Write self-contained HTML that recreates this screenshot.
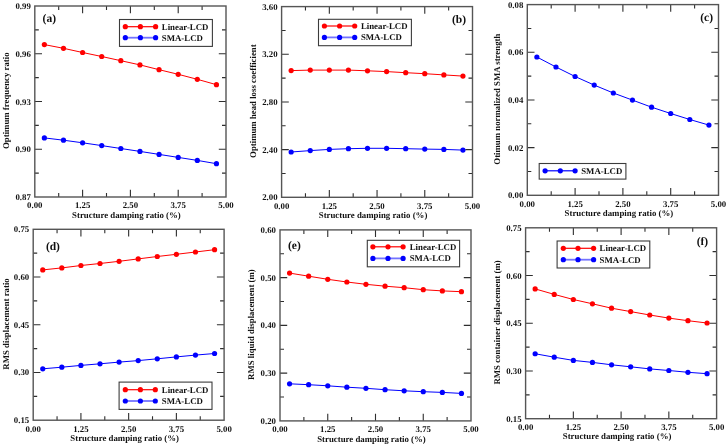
<!DOCTYPE html>
<html><head><meta charset="utf-8"><title>Figure</title>
<style>
html,body{margin:0;padding:0;background:#fff;}
svg{display:block;will-change:transform;}
text{text-rendering:geometricPrecision;font-family:"Liberation Serif",serif;font-weight:bold;font-size:8.8px;fill:#111;}
</style></head><body>
<svg width="727" height="445" viewBox="0 0 727 445">
<rect width="727" height="445" fill="#fff"/>
<g id="pa"><path d="M34.8 173.12h4.0M226 173.12h-4.0M34.8 149.25h7.2M226 149.25h-7.2M34.8 125.37h4.0M226 125.37h-4.0M34.8 101.5h7.2M226 101.5h-7.2M34.8 77.63h4.0M226 77.63h-4.0M34.8 53.75h7.2M226 53.75h-7.2M34.8 29.88h4.0M226 29.88h-4.0M58.7 197v-4.0M58.7 6v4.0M82.6 197v-7.2M82.6 6v7.2M106.5 197v-4.0M106.5 6v4.0M130.4 197v-7.2M130.4 6v7.2M154.3 197v-4.0M154.3 6v4.0M178.2 197v-7.2M178.2 6v7.2M202.1 197v-4.0M202.1 6v4.0" stroke="#2e2e2e" stroke-width="1.1" fill="none"/>
<rect x="34.8" y="6" width="191.2" height="191" stroke="#555555" stroke-width="1.4" fill="none"/>
<text x="30.8" y="200" text-anchor="end">0.87</text>
<text x="30.8" y="152.25" text-anchor="end">0.90</text>
<text x="30.8" y="104.5" text-anchor="end">0.93</text>
<text x="30.8" y="56.75" text-anchor="end">0.96</text>
<text x="30.8" y="9" text-anchor="end">0.99</text>
<text x="34.8" y="208.4" text-anchor="middle">0.00</text>
<text x="82.6" y="208.4" text-anchor="middle">1.25</text>
<text x="130.4" y="208.4" text-anchor="middle">2.50</text>
<text x="178.2" y="208.4" text-anchor="middle">3.75</text>
<text x="226" y="208.4" text-anchor="middle">5.00</text>
<text x="126.4" y="217.6" text-anchor="middle">Structure damping ratio (%)</text>
<text transform="translate(9.3 100.7) rotate(-90)" text-anchor="middle">Optimum frequency ratio</text>
<text x="42.6" y="21.6" text-anchor="start" style="font-size:11.5px">(a)</text>
<polyline points="44.36,44.6 63.48,48.3 82.6,52.5 101.72,56.5 120.84,60.7 139.96,64.9 159.08,69.7 178.2,74.3 197.32,79.3 216.44,84.7" stroke="#ff0000" stroke-width="1.0" fill="none"/>
<circle cx="44.36" cy="44.6" r="2.6" fill="#ff0000"/><circle cx="63.48" cy="48.3" r="2.6" fill="#ff0000"/><circle cx="82.6" cy="52.5" r="2.6" fill="#ff0000"/><circle cx="101.72" cy="56.5" r="2.6" fill="#ff0000"/><circle cx="120.84" cy="60.7" r="2.6" fill="#ff0000"/><circle cx="139.96" cy="64.9" r="2.6" fill="#ff0000"/><circle cx="159.08" cy="69.7" r="2.6" fill="#ff0000"/><circle cx="178.2" cy="74.3" r="2.6" fill="#ff0000"/><circle cx="197.32" cy="79.3" r="2.6" fill="#ff0000"/><circle cx="216.44" cy="84.7" r="2.6" fill="#ff0000"/>
<polyline points="44.36,137.9 63.48,140.2 82.6,142.8 101.72,145.6 120.84,148.5 139.96,151.4 159.08,154.4 178.2,157.4 197.32,160.4 216.44,163.7" stroke="#0000ff" stroke-width="1.0" fill="none"/>
<circle cx="44.36" cy="137.9" r="2.6" fill="#0000ff"/><circle cx="63.48" cy="140.2" r="2.6" fill="#0000ff"/><circle cx="82.6" cy="142.8" r="2.6" fill="#0000ff"/><circle cx="101.72" cy="145.6" r="2.6" fill="#0000ff"/><circle cx="120.84" cy="148.5" r="2.6" fill="#0000ff"/><circle cx="139.96" cy="151.4" r="2.6" fill="#0000ff"/><circle cx="159.08" cy="154.4" r="2.6" fill="#0000ff"/><circle cx="178.2" cy="157.4" r="2.6" fill="#0000ff"/><circle cx="197.32" cy="160.4" r="2.6" fill="#0000ff"/><circle cx="216.44" cy="163.7" r="2.6" fill="#0000ff"/>
<rect x="119.5" y="19.5" width="92.9" height="26.9" stroke="#3c3c3c" stroke-width="1.1" fill="#fff"/>
<path d="M125.3 26.7H155.6" stroke="#ff0000" stroke-width="1.2"/>
<circle cx="125.3" cy="26.7" r="2.6" fill="#ff0000"/><circle cx="140.4" cy="26.7" r="2.6" fill="#ff0000"/><circle cx="155.6" cy="26.7" r="2.6" fill="#ff0000"/>
<text x="161.8" y="29.7">Linear-LCD</text>
<path d="M125.3 37.7H155.6" stroke="#7373ff" stroke-width="1.8"/>
<circle cx="125.3" cy="37.7" r="2.6" fill="#0000ff"/><circle cx="140.4" cy="37.7" r="2.6" fill="#0000ff"/><circle cx="155.6" cy="37.7" r="2.6" fill="#0000ff"/>
<text x="161.8" y="40.7">SMA-LCD</text></g>
<g id="pb"><path d="M281.6 173.46h4.0M472.5 173.46h-4.0M281.6 149.62h7.2M472.5 149.62h-7.2M281.6 125.79h4.0M472.5 125.79h-4.0M281.6 101.95h7.2M472.5 101.95h-7.2M281.6 78.11h4.0M472.5 78.11h-4.0M281.6 54.27h7.2M472.5 54.27h-7.2M281.6 30.44h4.0M472.5 30.44h-4.0M305.46 197.3v-4.0M305.46 6.6v4.0M329.33 197.3v-7.2M329.33 6.6v7.2M353.19 197.3v-4.0M353.19 6.6v4.0M377.05 197.3v-7.2M377.05 6.6v7.2M400.91 197.3v-4.0M400.91 6.6v4.0M424.77 197.3v-7.2M424.77 6.6v7.2M448.64 197.3v-4.0M448.64 6.6v4.0" stroke="#2e2e2e" stroke-width="1.1" fill="none"/>
<rect x="281.6" y="6.6" width="190.9" height="190.7" stroke="#555555" stroke-width="1.4" fill="none"/>
<text x="277.6" y="200.3" text-anchor="end">2.00</text>
<text x="277.6" y="152.62" text-anchor="end">2.40</text>
<text x="277.6" y="104.95" text-anchor="end">2.80</text>
<text x="277.6" y="57.27" text-anchor="end">3.20</text>
<text x="277.6" y="9.6" text-anchor="end">3.60</text>
<text x="281.6" y="208.7" text-anchor="middle">0.00</text>
<text x="329.33" y="208.7" text-anchor="middle">1.25</text>
<text x="377.05" y="208.7" text-anchor="middle">2.50</text>
<text x="424.77" y="208.7" text-anchor="middle">3.75</text>
<text x="472.5" y="208.7" text-anchor="middle">5.00</text>
<text x="373.05" y="217.9" text-anchor="middle">Structure damping ratio (%)</text>
<text transform="translate(255.7 101.15) rotate(-90)" text-anchor="middle">Optimum head loss coefficient</text>
<text x="466" y="23.2" text-anchor="end" style="font-size:11.5px">(b)</text>
<polyline points="291.15,70.6 310.24,70.1 329.33,70.1 348.42,70.1 367.5,70.8 386.6,71.6 405.69,72.7 424.77,73.7 443.87,74.9 462.95,76.1" stroke="#ff0000" stroke-width="1.0" fill="none"/>
<circle cx="291.15" cy="70.6" r="2.6" fill="#ff0000"/><circle cx="310.24" cy="70.1" r="2.6" fill="#ff0000"/><circle cx="329.33" cy="70.1" r="2.6" fill="#ff0000"/><circle cx="348.42" cy="70.1" r="2.6" fill="#ff0000"/><circle cx="367.5" cy="70.8" r="2.6" fill="#ff0000"/><circle cx="386.6" cy="71.6" r="2.6" fill="#ff0000"/><circle cx="405.69" cy="72.7" r="2.6" fill="#ff0000"/><circle cx="424.77" cy="73.7" r="2.6" fill="#ff0000"/><circle cx="443.87" cy="74.9" r="2.6" fill="#ff0000"/><circle cx="462.95" cy="76.1" r="2.6" fill="#ff0000"/>
<polyline points="291.15,152 310.24,150.6 329.33,149.4 348.42,148.7 367.5,148.3 386.6,148.3 405.69,148.7 424.77,149.1 443.87,149.4 462.95,150.1" stroke="#0000ff" stroke-width="1.0" fill="none"/>
<circle cx="291.15" cy="152" r="2.6" fill="#0000ff"/><circle cx="310.24" cy="150.6" r="2.6" fill="#0000ff"/><circle cx="329.33" cy="149.4" r="2.6" fill="#0000ff"/><circle cx="348.42" cy="148.7" r="2.6" fill="#0000ff"/><circle cx="367.5" cy="148.3" r="2.6" fill="#0000ff"/><circle cx="386.6" cy="148.3" r="2.6" fill="#0000ff"/><circle cx="405.69" cy="148.7" r="2.6" fill="#0000ff"/><circle cx="424.77" cy="149.1" r="2.6" fill="#0000ff"/><circle cx="443.87" cy="149.4" r="2.6" fill="#0000ff"/><circle cx="462.95" cy="150.1" r="2.6" fill="#0000ff"/>
<rect x="318.5" y="19.3" width="92.9" height="26.4" stroke="#3c3c3c" stroke-width="1.1" fill="#fff"/>
<path d="M324.4 26H354.7" stroke="#ff0000" stroke-width="1.2"/>
<circle cx="324.4" cy="26" r="2.6" fill="#ff0000"/><circle cx="339.6" cy="26" r="2.6" fill="#ff0000"/><circle cx="354.7" cy="26" r="2.6" fill="#ff0000"/>
<text x="360.9" y="29">Linear-LCD</text>
<path d="M324.4 37.4H354.7" stroke="#7373ff" stroke-width="1.8"/>
<circle cx="324.4" cy="37.4" r="2.6" fill="#0000ff"/><circle cx="339.6" cy="37.4" r="2.6" fill="#0000ff"/><circle cx="354.7" cy="37.4" r="2.6" fill="#0000ff"/>
<text x="360.9" y="40.4">SMA-LCD</text></g>
<g id="pc"><path d="M527.3 171.46h4.0M718.5 171.46h-4.0M527.3 147.62h7.2M718.5 147.62h-7.2M527.3 123.79h4.0M718.5 123.79h-4.0M527.3 99.95h7.2M718.5 99.95h-7.2M527.3 76.11h4.0M718.5 76.11h-4.0M527.3 52.28h7.2M718.5 52.28h-7.2M527.3 28.44h4.0M718.5 28.44h-4.0M551.2 195.3v-4.0M551.2 4.6v4.0M575.1 195.3v-7.2M575.1 4.6v7.2M599 195.3v-4.0M599 4.6v4.0M622.9 195.3v-7.2M622.9 4.6v7.2M646.8 195.3v-4.0M646.8 4.6v4.0M670.7 195.3v-7.2M670.7 4.6v7.2M694.6 195.3v-4.0M694.6 4.6v4.0" stroke="#2e2e2e" stroke-width="1.1" fill="none"/>
<rect x="527.3" y="4.6" width="191.2" height="190.7" stroke="#555555" stroke-width="1.4" fill="none"/>
<text x="523.3" y="198.3" text-anchor="end">0.00</text>
<text x="523.3" y="150.62" text-anchor="end">0.02</text>
<text x="523.3" y="102.95" text-anchor="end">0.04</text>
<text x="523.3" y="55.28" text-anchor="end">0.06</text>
<text x="523.3" y="7.6" text-anchor="end">0.08</text>
<text x="527.3" y="206.7" text-anchor="middle">0.00</text>
<text x="575.1" y="206.7" text-anchor="middle">1.25</text>
<text x="622.9" y="206.7" text-anchor="middle">2.50</text>
<text x="670.7" y="206.7" text-anchor="middle">3.75</text>
<text x="718.5" y="206.7" text-anchor="middle">5.00</text>
<text x="618.9" y="215.9" text-anchor="middle">Structure damping ratio (%)</text>
<text transform="translate(499.7 99.15) rotate(-90)" text-anchor="middle">Otimum normalized SMA strength</text>
<text x="713" y="21.2" text-anchor="end" style="font-size:11.5px">(c)</text>
<polyline points="536.86,57 555.98,67 575.1,76.5 594.22,85.1 613.34,93 632.46,100.1 651.58,107.2 670.7,113.5 689.82,119.5 708.94,125.1" stroke="#0000ff" stroke-width="1.0" fill="none"/>
<circle cx="536.86" cy="57" r="2.6" fill="#0000ff"/><circle cx="555.98" cy="67" r="2.6" fill="#0000ff"/><circle cx="575.1" cy="76.5" r="2.6" fill="#0000ff"/><circle cx="594.22" cy="85.1" r="2.6" fill="#0000ff"/><circle cx="613.34" cy="93" r="2.6" fill="#0000ff"/><circle cx="632.46" cy="100.1" r="2.6" fill="#0000ff"/><circle cx="651.58" cy="107.2" r="2.6" fill="#0000ff"/><circle cx="670.7" cy="113.5" r="2.6" fill="#0000ff"/><circle cx="689.82" cy="119.5" r="2.6" fill="#0000ff"/><circle cx="708.94" cy="125.1" r="2.6" fill="#0000ff"/>
<rect x="539.2" y="163.5" width="86.7" height="15.6" stroke="#3c3c3c" stroke-width="1.1" fill="#fff"/>
<path d="M545.1 170.8H575.1" stroke="#0000ff" stroke-width="1.2"/>
<circle cx="545.1" cy="170.8" r="2.6" fill="#0000ff"/><circle cx="560.3" cy="170.8" r="2.6" fill="#0000ff"/><circle cx="575.1" cy="170.8" r="2.6" fill="#0000ff"/>
<text x="581.2" y="173.8">SMA-LCD</text></g>
<g id="pd"><path d="M33.2 396.34h4.0M224.1 396.34h-4.0M33.2 372.48h7.2M224.1 372.48h-7.2M33.2 348.61h4.0M224.1 348.61h-4.0M33.2 324.75h7.2M224.1 324.75h-7.2M33.2 300.89h4.0M224.1 300.89h-4.0M33.2 277.02h7.2M224.1 277.02h-7.2M33.2 253.16h4.0M224.1 253.16h-4.0M57.06 420.2v-4.0M57.06 229.3v4.0M80.92 420.2v-7.2M80.92 229.3v7.2M104.79 420.2v-4.0M104.79 229.3v4.0M128.65 420.2v-7.2M128.65 229.3v7.2M152.51 420.2v-4.0M152.51 229.3v4.0M176.38 420.2v-7.2M176.38 229.3v7.2M200.24 420.2v-4.0M200.24 229.3v4.0" stroke="#2e2e2e" stroke-width="1.1" fill="none"/>
<rect x="33.2" y="229.3" width="190.9" height="190.9" stroke="#555555" stroke-width="1.4" fill="none"/>
<text x="29.2" y="423.2" text-anchor="end">0.15</text>
<text x="29.2" y="375.48" text-anchor="end">0.30</text>
<text x="29.2" y="327.75" text-anchor="end">0.45</text>
<text x="29.2" y="280.02" text-anchor="end">0.60</text>
<text x="29.2" y="232.3" text-anchor="end">0.75</text>
<text x="33.2" y="431.6" text-anchor="middle">0.00</text>
<text x="80.92" y="431.6" text-anchor="middle">1.25</text>
<text x="128.65" y="431.6" text-anchor="middle">2.50</text>
<text x="176.38" y="431.6" text-anchor="middle">3.75</text>
<text x="224.1" y="431.6" text-anchor="middle">5.00</text>
<text x="124.65" y="440.8" text-anchor="middle">Structure damping ratio (%)</text>
<text transform="translate(8.8 323.95) rotate(-90)" text-anchor="middle">RMS displacement ratio</text>
<text x="45.9" y="249.6" text-anchor="start" style="font-size:11.5px">(d)</text>
<polyline points="42.75,269.9 61.83,267.9 80.92,265.5 100.01,263.5 119.1,261.3 138.19,258.9 157.28,256.5 176.38,254.3 195.46,252 214.55,249.7" stroke="#ff0000" stroke-width="1.0" fill="none"/>
<circle cx="42.75" cy="269.9" r="2.6" fill="#ff0000"/><circle cx="61.83" cy="267.9" r="2.6" fill="#ff0000"/><circle cx="80.92" cy="265.5" r="2.6" fill="#ff0000"/><circle cx="100.01" cy="263.5" r="2.6" fill="#ff0000"/><circle cx="119.1" cy="261.3" r="2.6" fill="#ff0000"/><circle cx="138.19" cy="258.9" r="2.6" fill="#ff0000"/><circle cx="157.28" cy="256.5" r="2.6" fill="#ff0000"/><circle cx="176.38" cy="254.3" r="2.6" fill="#ff0000"/><circle cx="195.46" cy="252" r="2.6" fill="#ff0000"/><circle cx="214.55" cy="249.7" r="2.6" fill="#ff0000"/>
<polyline points="42.75,368.8 61.83,367.2 80.92,365.4 100.01,363.8 119.1,362.1 138.19,360.6 157.28,358.8 176.38,356.9 195.46,355.1 214.55,353.5" stroke="#0000ff" stroke-width="1.0" fill="none"/>
<circle cx="42.75" cy="368.8" r="2.6" fill="#0000ff"/><circle cx="61.83" cy="367.2" r="2.6" fill="#0000ff"/><circle cx="80.92" cy="365.4" r="2.6" fill="#0000ff"/><circle cx="100.01" cy="363.8" r="2.6" fill="#0000ff"/><circle cx="119.1" cy="362.1" r="2.6" fill="#0000ff"/><circle cx="138.19" cy="360.6" r="2.6" fill="#0000ff"/><circle cx="157.28" cy="358.8" r="2.6" fill="#0000ff"/><circle cx="176.38" cy="356.9" r="2.6" fill="#0000ff"/><circle cx="195.46" cy="355.1" r="2.6" fill="#0000ff"/><circle cx="214.55" cy="353.5" r="2.6" fill="#0000ff"/>
<rect x="119.1" y="382.1" width="92.9" height="27.3" stroke="#3c3c3c" stroke-width="1.1" fill="#fff"/>
<path d="M125.3 389.7H155.3" stroke="#ff0000" stroke-width="1.2"/>
<circle cx="125.3" cy="389.7" r="2.6" fill="#ff0000"/><circle cx="140.4" cy="389.7" r="2.6" fill="#ff0000"/><circle cx="155.3" cy="389.7" r="2.6" fill="#ff0000"/>
<text x="161.8" y="392.7">Linear-LCD</text>
<path d="M125.3 401H155.3" stroke="#7373ff" stroke-width="1.8"/>
<circle cx="125.3" cy="401" r="2.6" fill="#0000ff"/><circle cx="140.4" cy="401" r="2.6" fill="#0000ff"/><circle cx="155.3" cy="401" r="2.6" fill="#0000ff"/>
<text x="161.8" y="404">SMA-LCD</text></g>
<g id="pe"><path d="M280 397.02h4.0M471 397.02h-4.0M280 373.15h7.2M471 373.15h-7.2M280 349.27h4.0M471 349.27h-4.0M280 325.4h7.2M471 325.4h-7.2M280 301.52h4.0M471 301.52h-4.0M280 277.65h7.2M471 277.65h-7.2M280 253.77h4.0M471 253.77h-4.0M303.88 420.9v-4.0M303.88 229.9v4.0M327.75 420.9v-7.2M327.75 229.9v7.2M351.62 420.9v-4.0M351.62 229.9v4.0M375.5 420.9v-7.2M375.5 229.9v7.2M399.38 420.9v-4.0M399.38 229.9v4.0M423.25 420.9v-7.2M423.25 229.9v7.2M447.12 420.9v-4.0M447.12 229.9v4.0" stroke="#2e2e2e" stroke-width="1.1" fill="none"/>
<rect x="280" y="229.9" width="191" height="191" stroke="#555555" stroke-width="1.4" fill="none"/>
<text x="276" y="423.9" text-anchor="end">0.20</text>
<text x="276" y="376.15" text-anchor="end">0.30</text>
<text x="276" y="328.4" text-anchor="end">0.40</text>
<text x="276" y="280.65" text-anchor="end">0.50</text>
<text x="276" y="232.9" text-anchor="end">0.60</text>
<text x="280" y="432.3" text-anchor="middle">0.00</text>
<text x="327.75" y="432.3" text-anchor="middle">1.25</text>
<text x="375.5" y="432.3" text-anchor="middle">2.50</text>
<text x="423.25" y="432.3" text-anchor="middle">3.75</text>
<text x="471" y="432.3" text-anchor="middle">5.00</text>
<text x="371.5" y="441.5" text-anchor="middle">Structure damping ratio (%)</text>
<text transform="translate(254.2 324.6) rotate(-90)" text-anchor="middle">RMS liquid displacement (m)</text>
<text x="288" y="249.2" text-anchor="start" style="font-size:11.5px">(e)</text>
<polyline points="289.55,273.1 308.65,276.2 327.75,279.3 346.85,282 365.95,284.3 385.05,286.2 404.15,287.7 423.25,289.7 442.35,290.9 461.45,291.7" stroke="#ff0000" stroke-width="1.0" fill="none"/>
<circle cx="289.55" cy="273.1" r="2.6" fill="#ff0000"/><circle cx="308.65" cy="276.2" r="2.6" fill="#ff0000"/><circle cx="327.75" cy="279.3" r="2.6" fill="#ff0000"/><circle cx="346.85" cy="282" r="2.6" fill="#ff0000"/><circle cx="365.95" cy="284.3" r="2.6" fill="#ff0000"/><circle cx="385.05" cy="286.2" r="2.6" fill="#ff0000"/><circle cx="404.15" cy="287.7" r="2.6" fill="#ff0000"/><circle cx="423.25" cy="289.7" r="2.6" fill="#ff0000"/><circle cx="442.35" cy="290.9" r="2.6" fill="#ff0000"/><circle cx="461.45" cy="291.7" r="2.6" fill="#ff0000"/>
<polyline points="289.55,383.8 308.65,384.7 327.75,385.8 346.85,387.2 365.95,388.3 385.05,389.7 404.15,390.8 423.25,391.7 442.35,392.4 461.45,393.4" stroke="#0000ff" stroke-width="1.0" fill="none"/>
<circle cx="289.55" cy="383.8" r="2.6" fill="#0000ff"/><circle cx="308.65" cy="384.7" r="2.6" fill="#0000ff"/><circle cx="327.75" cy="385.8" r="2.6" fill="#0000ff"/><circle cx="346.85" cy="387.2" r="2.6" fill="#0000ff"/><circle cx="365.95" cy="388.3" r="2.6" fill="#0000ff"/><circle cx="385.05" cy="389.7" r="2.6" fill="#0000ff"/><circle cx="404.15" cy="390.8" r="2.6" fill="#0000ff"/><circle cx="423.25" cy="391.7" r="2.6" fill="#0000ff"/><circle cx="442.35" cy="392.4" r="2.6" fill="#0000ff"/><circle cx="461.45" cy="393.4" r="2.6" fill="#0000ff"/>
<rect x="367.3" y="240.3" width="92.3" height="26.5" stroke="#3c3c3c" stroke-width="1.1" fill="#fff"/>
<path d="M372.9 246.8H403.1" stroke="#ff0000" stroke-width="1.2"/>
<circle cx="372.9" cy="246.8" r="2.6" fill="#ff0000"/><circle cx="388" cy="246.8" r="2.6" fill="#ff0000"/><circle cx="403.1" cy="246.8" r="2.6" fill="#ff0000"/>
<text x="409.7" y="249.8">Linear-LCD</text>
<path d="M372.9 258.4H403.1" stroke="#7373ff" stroke-width="1.8"/>
<circle cx="372.9" cy="258.4" r="2.6" fill="#0000ff"/><circle cx="388" cy="258.4" r="2.6" fill="#0000ff"/><circle cx="403.1" cy="258.4" r="2.6" fill="#0000ff"/>
<text x="409.7" y="261.4">SMA-LCD</text></g>
<g id="pf"><path d="M525.6 394.84h4.0M716.6 394.84h-4.0M525.6 370.98h7.2M716.6 370.98h-7.2M525.6 347.11h4.0M716.6 347.11h-4.0M525.6 323.25h7.2M716.6 323.25h-7.2M525.6 299.39h4.0M716.6 299.39h-4.0M525.6 275.52h7.2M716.6 275.52h-7.2M525.6 251.66h4.0M716.6 251.66h-4.0M549.48 418.7v-4.0M549.48 227.8v4.0M573.35 418.7v-7.2M573.35 227.8v7.2M597.23 418.7v-4.0M597.23 227.8v4.0M621.1 418.7v-7.2M621.1 227.8v7.2M644.98 418.7v-4.0M644.98 227.8v4.0M668.85 418.7v-7.2M668.85 227.8v7.2M692.73 418.7v-4.0M692.73 227.8v4.0" stroke="#2e2e2e" stroke-width="1.1" fill="none"/>
<rect x="525.6" y="227.8" width="191" height="190.9" stroke="#555555" stroke-width="1.4" fill="none"/>
<text x="521.6" y="421.7" text-anchor="end">0.15</text>
<text x="521.6" y="373.98" text-anchor="end">0.30</text>
<text x="521.6" y="326.25" text-anchor="end">0.45</text>
<text x="521.6" y="278.52" text-anchor="end">0.60</text>
<text x="521.6" y="230.8" text-anchor="end">0.75</text>
<text x="525.6" y="430.1" text-anchor="middle">0.00</text>
<text x="573.35" y="430.1" text-anchor="middle">1.25</text>
<text x="621.1" y="430.1" text-anchor="middle">2.50</text>
<text x="668.85" y="430.1" text-anchor="middle">3.75</text>
<text x="716.6" y="430.1" text-anchor="middle">5.00</text>
<text x="617.1" y="439.3" text-anchor="middle">Structure damping ratio (%)</text>
<text transform="translate(499.6 322.45) rotate(-90)" text-anchor="middle">RMS container displacement (m)</text>
<text x="708.2" y="244.6" text-anchor="end" style="font-size:11.5px">(f)</text>
<polyline points="535.15,288.9 554.25,294.4 573.35,299.5 592.45,303.8 611.55,308.2 630.65,311.6 649.75,315 668.85,318.1 687.95,320.7 707.05,323" stroke="#ff0000" stroke-width="1.0" fill="none"/>
<circle cx="535.15" cy="288.9" r="2.6" fill="#ff0000"/><circle cx="554.25" cy="294.4" r="2.6" fill="#ff0000"/><circle cx="573.35" cy="299.5" r="2.6" fill="#ff0000"/><circle cx="592.45" cy="303.8" r="2.6" fill="#ff0000"/><circle cx="611.55" cy="308.2" r="2.6" fill="#ff0000"/><circle cx="630.65" cy="311.6" r="2.6" fill="#ff0000"/><circle cx="649.75" cy="315" r="2.6" fill="#ff0000"/><circle cx="668.85" cy="318.1" r="2.6" fill="#ff0000"/><circle cx="687.95" cy="320.7" r="2.6" fill="#ff0000"/><circle cx="707.05" cy="323" r="2.6" fill="#ff0000"/>
<polyline points="535.15,353.75 554.25,357.2 573.35,360.4 592.45,362.4 611.55,364.8 630.65,366.8 649.75,368.9 668.85,370.5 687.95,372.3 707.05,373.7" stroke="#0000ff" stroke-width="1.0" fill="none"/>
<circle cx="535.15" cy="353.75" r="2.6" fill="#0000ff"/><circle cx="554.25" cy="357.2" r="2.6" fill="#0000ff"/><circle cx="573.35" cy="360.4" r="2.6" fill="#0000ff"/><circle cx="592.45" cy="362.4" r="2.6" fill="#0000ff"/><circle cx="611.55" cy="364.8" r="2.6" fill="#0000ff"/><circle cx="630.65" cy="366.8" r="2.6" fill="#0000ff"/><circle cx="649.75" cy="368.9" r="2.6" fill="#0000ff"/><circle cx="668.85" cy="370.5" r="2.6" fill="#0000ff"/><circle cx="687.95" cy="372.3" r="2.6" fill="#0000ff"/><circle cx="707.05" cy="373.7" r="2.6" fill="#0000ff"/>
<rect x="557.1" y="241" width="92.7" height="27" stroke="#3c3c3c" stroke-width="1.1" fill="#fff"/>
<path d="M563.3 248.3H593.6" stroke="#ff0000" stroke-width="1.2"/>
<circle cx="563.3" cy="248.3" r="2.6" fill="#ff0000"/><circle cx="578" cy="248.3" r="2.6" fill="#ff0000"/><circle cx="593.6" cy="248.3" r="2.6" fill="#ff0000"/>
<text x="599.6" y="251.3">Linear-LCD</text>
<path d="M563.3 259.7H593.6" stroke="#7373ff" stroke-width="1.8"/>
<circle cx="563.3" cy="259.7" r="2.6" fill="#0000ff"/><circle cx="578" cy="259.7" r="2.6" fill="#0000ff"/><circle cx="593.6" cy="259.7" r="2.6" fill="#0000ff"/>
<text x="599.6" y="262.7">SMA-LCD</text></g>
</svg>
</body></html>
